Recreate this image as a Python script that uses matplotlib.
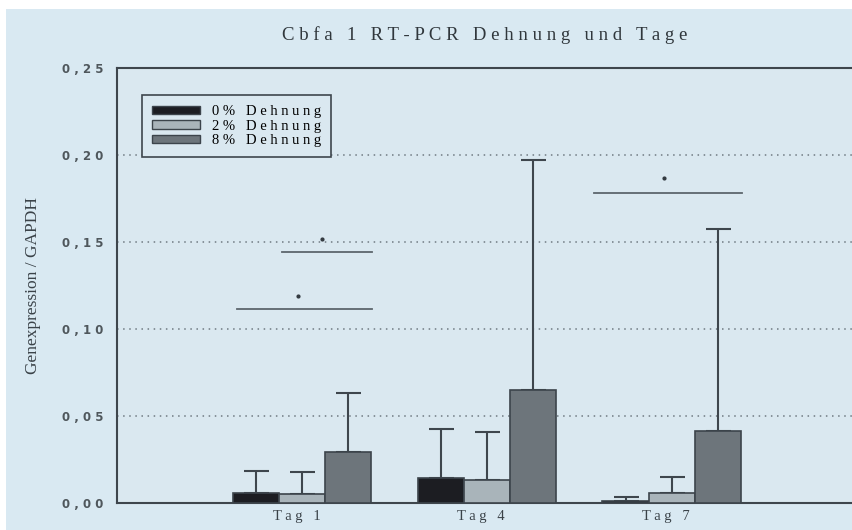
import numpy as np
import matplotlib
matplotlib.use('Agg')
import matplotlib.pyplot as plt
from matplotlib.patches import Rectangle, Patch

# data
days = ['Tag 1', 'Tag 4', 'Tag 7']
series = ['0% Dehnung', '2% Dehnung', '8% Dehnung']
mean_0 = [0.0059, 0.0144, 0.0013]
mean_2 = [0.0052, 0.0134, 0.0057]
mean_8 = [0.0295, 0.0651, 0.0414]
err_0 = [0.0125, 0.0283, 0.0023]
err_2 = [0.0126, 0.0272, 0.0094]
err_8 = [0.0335, 0.1319, 0.1161]

# significance bars: (x start, x end, y line, x star, y star)
sig_x0 = [-0.35, -0.11, 1.58]
sig_x1 = [0.38, 0.38, 2.38]
sig_y = [0.1115, 0.1443, 0.1782]
star_x = [-0.02, 0.11, 1.96]
star_y = [0.119, 0.152, 0.1868]

bg = '#d9e9f2'
ax_bg = '#dae8f0'
edge = '#3c444b'
colors = ['#1c1d22', '#a9b4ba', '#6d757b']

fig = plt.figure(figsize=(8.53, 5.30), dpi=100, facecolor='white')
fig.patches.append(Rectangle((6/853, 0), 1, 1 - 9/530, transform=fig.transFigure,
                             facecolor=bg, edgecolor='none', zorder=-10))

ax = fig.add_axes([117/853, 1 - 503/530, (853 - 117)/853, (503 - 68)/530])
ax.set_facecolor(ax_bg)

x = np.arange(len(days))
w = 0.25
means = [mean_0, mean_2, mean_8]
errs = [err_0, err_2, err_8]
for i in range(3):
    xi = x + (i - 1) * w
    ax.bar(xi, means[i], width=w, color=colors[i], edgecolor=edge, linewidth=1.2, zorder=3)
    ax.errorbar(xi, means[i], yerr=[np.zeros(3), errs[i]], fmt='none',
                ecolor='#3e464d', elinewidth=1.5, capsize=9, capthick=1.5, zorder=2)

for i in range(len(sig_y)):
    ax.plot([sig_x0[i], sig_x1[i]], [sig_y[i], sig_y[i]], color='#5c666d', lw=1.3, zorder=4)
    ax.plot(star_x[i], star_y[i], 'o', color='#333a40', ms=2, zorder=4)

ax.set_xlim(-1, 2.98)
ax.set_ylim(0, 0.25)
ax.set_yticks([0, 0.05, 0.10, 0.15, 0.20, 0.25])
ax.set_yticklabels(['0 , 0 0', '0 , 0 5', '0 , 1 0', '0 , 1 5', '0 , 2 0', '0 , 2 5'],
                   fontsize=8.5, color='#4f575c', fontweight='bold', family='DejaVu Sans')
ax.set_xticks(x - 0.03)
ax.set_xticklabels(['T a g   1', 'T a g   4', 'T a g   7'], fontsize=10.5,
                   color='#3a4248', family='Liberation Serif')
ax.tick_params(length=0, pad=10)
ax.tick_params(axis='x', pad=5)

for g in [0.05, 0.10, 0.15, 0.20]:
    ax.axhline(g, color='#6f7a82', lw=1.1, ls=(0, (1, 3)), zorder=1)

for s in ['left', 'bottom', 'top']:
    ax.spines[s].set_color('#3e464d')
    ax.spines[s].set_linewidth(1.5)
ax.spines['right'].set_visible(False)

ax.set_ylabel('Genexpression / GAPDH', fontsize=12.5, family='Liberation Serif',
              color='#3a4248', labelpad=15)
ax.set_title('C b f a   1   R T - P C R   D e h n u n g   u n d   T a g e', fontsize=13.5,
             family='Liberation Serif', color='#30373c', pad=20)

handles = [Patch(facecolor=colors[i], edgecolor=edge) for i in range(3)]
labels = ['0 %   D e h n u n g', '2 %   D e h n u n g', '8 %   D e h n u n g']
leg = ax.legend(handles, labels, loc='upper left', bbox_to_anchor=(25/736, 1 - 27/435),
                prop={'family': 'Liberation Serif', 'size': 10.5}, frameon=True, fancybox=False,
                handlelength=3.3, handleheight=0.55, labelspacing=0.1, borderpad=0.7,
                handletextpad=0.8, borderaxespad=0)
leg.get_frame().set_facecolor(ax_bg)
leg.get_frame().set_edgecolor('#3e464d')
leg.get_frame().set_linewidth(1.2)
leg.get_frame().set_alpha(1)
leg.set_zorder(5)

fig.savefig('out.png', dpi=100, facecolor=fig.get_facecolor())
